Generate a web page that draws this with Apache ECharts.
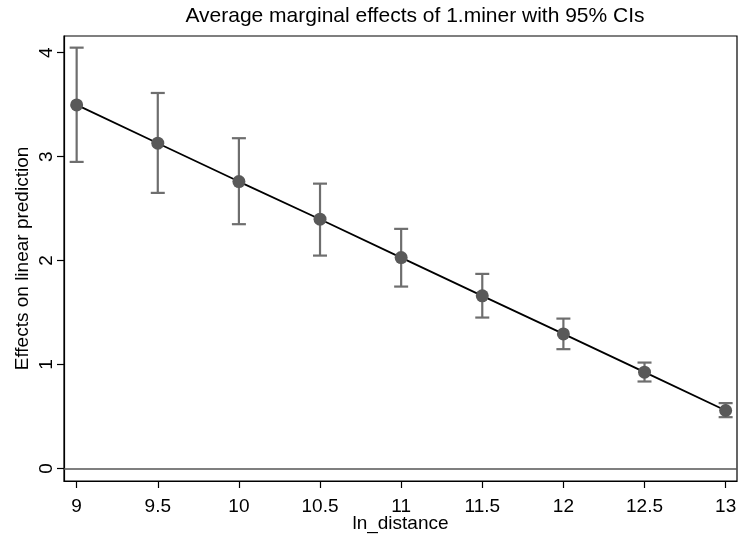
<!DOCTYPE html>
<html>
<head>
<meta charset="utf-8">
<script src="https://cdn.jsdelivr.net/npm/echarts@6/dist/echarts.min.js"></script>
<style>html,body{margin:0;padding:0;background:#fff}#c{width:740px;height:544px}</style>
</head>
<body>
<div id="c"></div>
<script>
const xValues = [9, 9.5, 10, 10.5, 11, 11.5, 12, 12.5, 13];
const effects = [3.497, 3.129, 2.760, 2.398, 2.029, 1.661, 1.295, 0.927, 0.558];
const ciLower = [2.949, 2.651, 2.350, 2.048, 1.750, 1.452, 1.148, 0.837, 0.494];
const ciUpper = [4.048, 3.612, 3.177, 2.740, 2.305, 1.872, 1.442, 1.019, 0.629];
const xTicks = [9, 9.5, 10, 10.5, 11, 11.5, 12, 12.5, 13];
const yTicks = [0, 1, 2, 3, 4];

const FONT = '"Liberation Sans", Arial, sans-serif';
const chart = echarts.init(document.getElementById('c'), null, {renderer: 'canvas'});

const pts = xValues.map((x, i) => [x, effects[i]]);
const ci = xValues.map((x, i) => [x, ciLower[i], ciUpper[i]]);

chart.setOption({
  animation: false,
  backgroundColor: '#fff',
  title: {
    text: 'Average marginal effects of 1.miner with 95% CIs',
    left: 410, top: 1, textAlign: 'center',
    textStyle: {fontFamily: FONT, fontSize: 21, fontWeight: 'normal', color: '#000'}
  },
  grid: {
    left: 64, right: 3, top: 36, bottom: 63,
    outerBoundsMode: 'none', containLabel: false,
    show: true, borderColor: '#000', borderWidth: 1.2, backgroundColor: '#fff'
  },
  xAxis: {
    type: 'value', min: 8.922, max: 13.07,
    name: 'ln_distance', nameLocation: 'middle', nameGap: 33, nameMoveOverlap: false,
    nameTextStyle: {fontFamily: FONT, fontSize: 19, color: '#000'},
    axisLine: {show: true, onZero: false, lineStyle: {color: '#000', width: 1.2}},
    axisTick: {show: true, length: 7, customValues: xTicks, lineStyle: {color: '#000', width: 1.2}},
    axisLabel: {customValues: xTicks, fontFamily: FONT, fontSize: 19, color: '#000', margin: 16},
    splitLine: {show: false}
  },
  yAxis: {
    type: 'value', min: -0.12, max: 4.16,
    name: 'Effects on linear prediction', nameLocation: 'middle', nameGap: 32, nameMoveOverlap: false,
    nameTextStyle: {fontFamily: FONT, fontSize: 19, color: '#000'},
    axisLine: {show: true, onZero: false, lineStyle: {color: '#000', width: 1.2}},
    axisTick: {show: true, length: 7, customValues: yTicks, lineStyle: {color: '#000', width: 1.2}},
    axisLabel: {customValues: yTicks, rotate: 90, fontFamily: FONT, fontSize: 19, color: '#000', margin: 8},
    splitLine: {show: false}
  },
  series: [
    {
      type: 'custom',
      z: 2,
      data: ci,
      renderItem: function (params, api) {
        const x = api.value(0);
        const lo = api.coord([x, api.value(1)]);
        const hi = api.coord([x, api.value(2)]);
        const w = 7;
        const style = {stroke: '#6e6e6e', lineWidth: 2.2, fill: null};
        return {
          type: 'group',
          children: [
            {type: 'line', shape: {x1: lo[0], y1: lo[1], x2: hi[0], y2: hi[1]}, style: style},
            {type: 'line', shape: {x1: lo[0] - w, y1: lo[1], x2: lo[0] + w, y2: lo[1]}, style: style},
            {type: 'line', shape: {x1: hi[0] - w, y1: hi[1], x2: hi[0] + w, y2: hi[1]}, style: style}
          ]
        };
      }
    },
    {
      type: 'line',
      z: 3,
      data: pts,
      symbol: 'circle',
      symbolSize: 13,
      showSymbol: true,
      lineStyle: {color: '#000', width: 1.8},
      itemStyle: {color: '#595959', borderWidth: 0},
      markLine: {
        silent: true, symbol: 'none', label: {show: false},
        lineStyle: {color: '#555', width: 1.6, type: 'solid'},
        data: [{yAxis: 0}]
      }
    }
  ]
});
</script>
</body>
</html>
